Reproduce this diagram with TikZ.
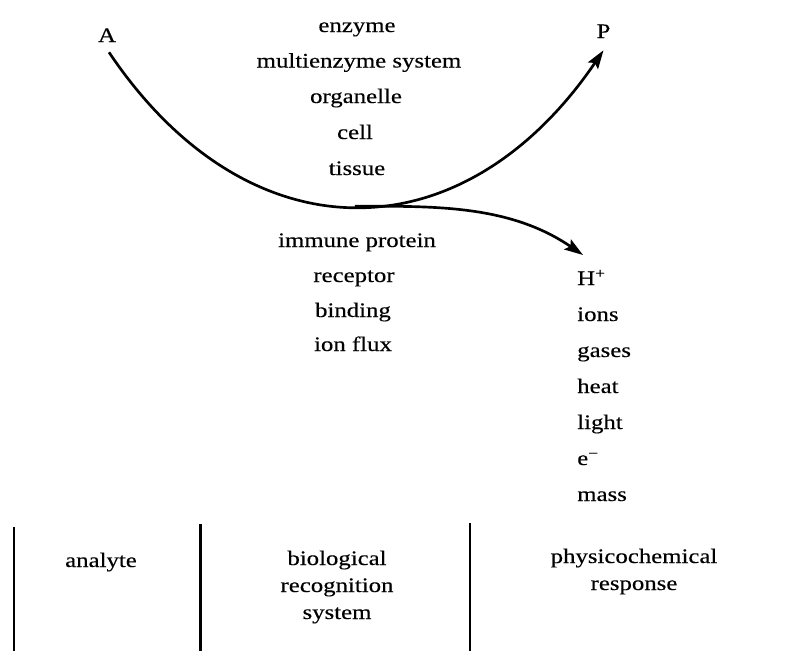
\documentclass[tikz,border=0pt]{standalone}
\usepackage{fontspec}
\setmainfont{Liberation Serif}[FakeStretch=1.2,FakeBold=0.3]
\usetikzlibrary{arrows.meta}
\begin{document}
\begin{tikzpicture}[x=0.75pt,y=-0.75pt,
  txt/.style={inner sep=0pt, anchor=base, font=\fontsize{15.5}{20.25}\selectfont},
  ltxt/.style={txt, anchor=base west},
  mtxt/.style={txt, align=center},
  flow/.style={line width=2pt, -{Stealth[length=14pt,width=9pt,inset=2.5pt]}},
  rulel/.style={line width=2pt}]
\useasboundingbox (0,0) rectangle (802,651);

% end labels
\node[txt] (A) at (107,42) {A};
\node[txt] (P) at (603.5,38) {P};

% upper column
\node[txt] (enz)  at (357,32)  {enzyme};
\node[txt] (menz) at (359,67.5) {multienzyme system};
\node[txt] (org)  at (356,103) {organelle};
\node[txt] (cell) at (355,139) {cell};
\node[txt] (tis)  at (357,175) {tissue};

% middle column
\node[txt] (imm)  at (357,247) {immune protein};
\node[txt] (rec)  at (354,282) {receptor};
\node[txt] (bind) at (353,317) {binding};
\node[txt] (ion)  at (353,351) {ion flux};

% right column
\node[ltxt] (H)     at (577,285) {H\textsuperscript{+}};
\node[ltxt] (ions)  at (577,321) {ions};
\node[ltxt] (gas)   at (577,357) {gases};
\node[ltxt] (heat)  at (577,393) {heat};
\node[ltxt] (light) at (577,429) {light};
\node[ltxt] (el)    at (577,465) {e\textsuperscript{−}};
\node[ltxt] (mass)  at (577,501) {mass};

% curves
\coordinate (tipH) at (583,255);
\draw[flow] ([shift={(2,10)}]A.south) .. controls (247,258) and (462,258) .. coordinate[pos=0.5] (fork) ([shift={(0,12)}]P.south);
\draw[flow] (fork) .. controls (435,206) and (510,205) .. (tipH);

% bottom table
\draw[rulel] (14,527) -- (14,651);
\draw[rulel] (200.5,524) -- (200.5,651);
\draw[rulel] (470,523) -- (470,651);

\node[txt] (analyte) at (101,567) {analyte};
\node[mtxt] (bio) at (337,619) {biological\\recognition\\system};
\node[mtxt] (phys) at (634,590) {physicochemical\\response};
\end{tikzpicture}
\end{document}
